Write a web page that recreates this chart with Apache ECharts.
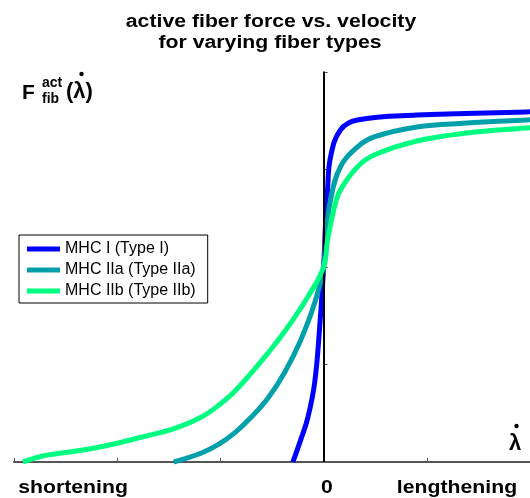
<!DOCTYPE html>
<html>
<head>
<meta charset="utf-8">
<script src="https://cdn.jsdelivr.net/npm/echarts@6/dist/echarts.min.js"></script>
<style>html,body{margin:0;padding:0;background:#fff;}#c{width:530px;height:498px;}</style>
</head>
<body>
<div id="c"></div>
<script>
var titleLines = ['active fiber force vs. velocity', 'for varying fiber types'];
var seriesNames = ['MHC I (Type I)', 'MHC IIa (Type IIa)', 'MHC IIb (Type IIb)'];
var seriesColors = ['#0000ff', '#00a0aa', '#00ff80'];
var xTickLabels = ['shortening', '0', 'lengthening'];

var typeI = [[-0.298,0],[-0.221,0.115],[-0.154,0.225],[-0.087,0.405],[-0.038,0.692],[0,1],[0.019,1.226],[0.038,1.395],[0.067,1.564],[0.163,1.703],[0.327,1.754],[0.904,1.779],[1.96,1.795],[2.0,1.796]];
var typeIIa = [[-1.452,0],[-1.183,0.046],[-1.019,0.09],[-0.856,0.152],[-0.702,0.229],[-0.538,0.328],[-0.375,0.462],[-0.221,0.626],[-0.087,0.815],[0,1],[0.019,1.138],[0.067,1.344],[0.163,1.513],[0.327,1.615],[0.49,1.667],[0.904,1.718],[1.385,1.738],[1.96,1.754],[2.0,1.755]];
var typeIIb = [[-2.913,0],[-2.721,0.031],[-2.394,0.056],[-2.077,0.087],[-1.76,0.128],[-1.433,0.174],[-1.183,0.231],[-1.019,0.29],[-0.856,0.365],[-0.538,0.559],[-0.346,0.692],[-0.154,0.846],[0,1],[0.038,1.138],[0.106,1.308],[0.163,1.395],[0.327,1.513],[0.49,1.574],[0.904,1.646],[1.385,1.687],[1.96,1.713],[2.0,1.714]];
var allData = [typeI, typeIIa, typeIIb];

var FONT = 'Liberation Sans, Arial, Helvetica, sans-serif';
var chart = echarts.init(document.getElementById('c'), null, {renderer: 'canvas'});

var series = allData.map(function (d, i) {
  return {
    name: seriesNames[i], type: 'line', data: d, showSymbol: false,
    smooth: 0.4,
    lineStyle: {color: seriesColors[i], width: 5}, itemStyle: {color: seriesColors[i]},
    z: 3 + i
  };
});
series.push({
  type: 'line', data: [], silent: true,
  markLine: {silent: true, symbol: ['none','none'], label: {show: false},
    lineStyle: {color: '#000', width: 2, type: 'solid'},
    data: [{xAxis: 0}]},
  z: 2
});

var axisLineStyle = {color: '#555', width: 2};
var SX = 1.18;
function label(text, x, y, size, align) {
  return {type: 'text', x: x, y: y, scaleX: SX,
    style: {text: text, font: 'bold ' + size + 'px ' + FONT, fill: '#000', textAlign: align || 'center', textVerticalAlign: 'top'}};
}
chart.setOption({
  animation: false,
  backgroundColor: '#fff',
  grid: {left: 14, top: 72, width: 520, height: 390, containLabel: false},
  xAxis: {type: 'value', min: -3, max: 2, interval: 1,
    axisLine: {show: true, onZero: false, lineStyle: axisLineStyle},
    axisTick: {show: true, inside: true, length: 4, lineStyle: {color: '#555', width: 1}},
    axisLabel: {show: false}, splitLine: {show: false}},
  yAxis: {type: 'value', min: 0, max: 2, interval: 0.5,
    axisLine: {show: true, lineStyle: axisLineStyle},
    axisTick: {show: true, inside: true, length: 4, lineStyle: {color: '#555', width: 1}},
    axisLabel: {show: false}, splitLine: {show: false}},
  legend: {
    orient: 'vertical', left: 19, top: 235,
    data: seriesNames,
    icon: 'rect', itemWidth: 33, itemHeight: 5, itemGap: 5,
    padding: [6, 12, 4, 8],
    borderColor: '#000', borderWidth: 1, backgroundColor: '#fff', borderRadius: 0,
    textStyle: {fontFamily: FONT, fontSize: 16, color: '#000', lineHeight: 16}
  },
  graphic: [
    label(titleLines[0], 271, 13, 18),
    label(titleLines[1], 270, 34, 18),
    {type: 'text', left: 22, top: 83, style: {text: 'F', font: 'bold 21px ' + FONT, fill: '#000'}},
    {type: 'text', left: 42, top: 76, style: {text: 'act', font: 'bold 14px ' + FONT, fill: '#000'}},
    {type: 'text', left: 42, top: 92, style: {text: 'fib', font: 'bold 14px ' + FONT, fill: '#000'}},
    {type: 'text', left: 66, top: 81, style: {text: '(\u03BB)', font: 'bold 22px ' + FONT, fill: '#000'}},
    {type: 'circle', shape: {cx: 81.5, cy: 74, r: 2.2}, style: {fill: '#000'}},
    {type: 'text', left: 509, top: 433, style: {text: '\u03BB', font: 'bold 22px ' + FONT, fill: '#000'}},
    {type: 'circle', shape: {cx: 516.5, cy: 426, r: 2.2}, style: {fill: '#000'}},
    label(xTickLabels[0], 73, 479, 18),
    label(xTickLabels[1], 327, 479, 18),
    label(xTickLabels[2], 457, 479, 18)
  ],
  series: series
});
</script>
</body>
</html>
